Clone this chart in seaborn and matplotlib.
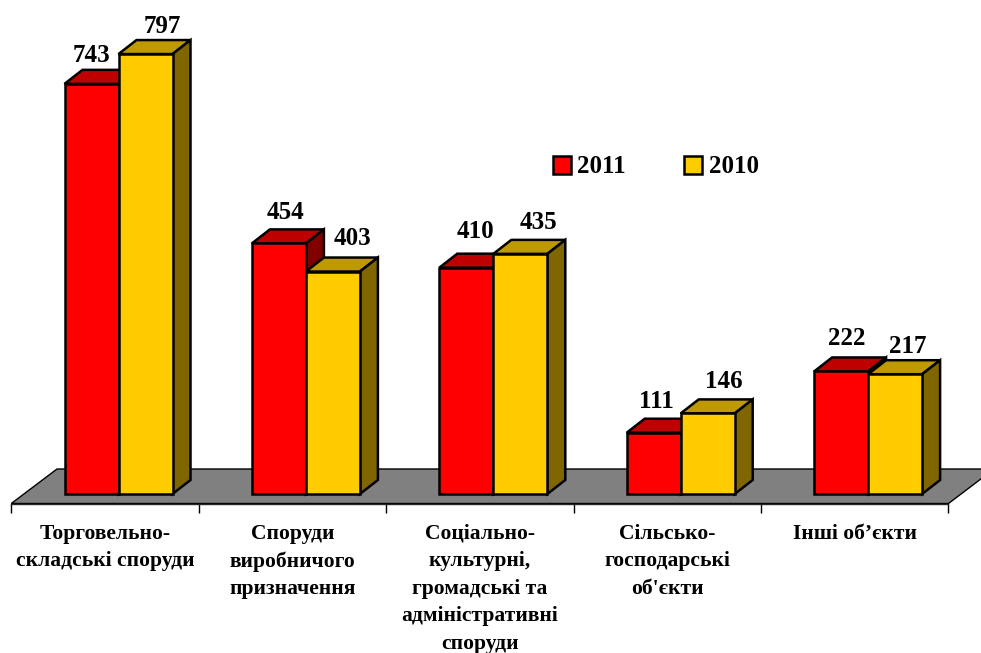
import matplotlib
matplotlib.use("Agg")
import matplotlib.pyplot as plt
import pandas as pd
import seaborn as sns
from matplotlib.patches import Polygon

categories = [
    "Торговельно-\nскладські споруди",
    "Споруди\nвиробничого\nпризначення",
    "Соціально-\nкультурні,\nгромадські та\nадміністративні\nспоруди",
    "Сільсько-\nгосподарські\nоб'єкти",
    "Інші об’єкти",
]
values_2011 = [743, 454, 410, 111, 222]
values_2010 = [797, 403, 435, 146, 217]

# manual shift of the value labels in pixels, relative to the back edge of the bar top
label_shift_2011 = [(0, 8), (7, 10), (9, 16), (3, 11), (6, 12)]
label_shift_2010 = [(17, 7), (20, 13), (18, 11), (16, 11), (13, 7)]

W, H = 981, 653
PX_PER_CAT = 187.4
PX_PER_UNIT = 0.552
X0, Y0 = 118.5, 494  # pixel position of first category centre and of value 0
DEPTH_X, DEPTH_Y = 18 / PX_PER_CAT, 14 / PX_PER_UNIT

sns.set_theme(style="white")
plt.rcParams["font.family"] = ["Liberation Serif", "DejaVu Serif"]
plt.rcParams["font.weight"] = "bold"

df = pd.DataFrame({
    "category": categories * 2,
    "value": values_2011 + values_2010,
    "year": ["2011"] * 5 + ["2010"] * 5,
})

fig = plt.figure(figsize=(W / 100, H / 100), dpi=100)
ax = fig.add_axes([0, 0, 1, 1])
ax.patch.set_alpha(0)

sns.barplot(data=df, x="category", y="value", hue="year", hue_order=["2011", "2010"],
            palette=["#FF0000", "#FFCC00"], saturation=1, width=108 / PX_PER_CAT, gap=0,
            edgecolor="black", linewidth=1.8, ax=ax)

ax.set_xlim(-X0 / PX_PER_CAT, (W - X0) / PX_PER_CAT)
ax.set_ylim(-(H - Y0) / PX_PER_UNIT, Y0 / PX_PER_UNIT)
ax.set_xlabel("")
ax.set_ylabel("")


def px(x, y):
    return (x - X0) / PX_PER_CAT, (Y0 - y) / PX_PER_UNIT


# grey floor, its front edge is the category axis
floor = [px(11.3, 503.5), px(948.5, 503.5), px(994, 469), px(57, 469)]
ax.add_patch(Polygon(floor, closed=True, facecolor="#808080", edgecolor="black", linewidth=1, zorder=1))

shades = [("#BF0000", "#800000"), ("#BF9900", "#806600")]
shifts = [label_shift_2011, label_shift_2010]
for n, container in enumerate(ax.containers):
    top_col, side_col = shades[n]
    for bar, (sx, sy) in zip(container, shifts[n]):
        bar.set_zorder(3 + 2 * n)
        x1, x2 = bar.get_x(), bar.get_x() + bar.get_width()
        h = bar.get_height()
        top = [(x1, h), (x2, h), (x2 + DEPTH_X, h + DEPTH_Y), (x1 + DEPTH_X, h + DEPTH_Y)]
        side = [(x2, 0), (x2 + DEPTH_X, DEPTH_Y), (x2 + DEPTH_X, h + DEPTH_Y), (x2, h)]
        ax.add_patch(Polygon(top, closed=True, facecolor=top_col, edgecolor="black", linewidth=1.8,
                             joinstyle="miter", zorder=2 + 2 * n))
        ax.add_patch(Polygon(side, closed=True, facecolor=side_col, edgecolor="black", linewidth=1.8,
                             joinstyle="miter", zorder=2 + 2 * n))
        ax.annotate(f"{h:.0f}", xy=((x1 + x2) / 2, h + DEPTH_Y), xytext=(sx * 0.72, sy * 0.72),
                    textcoords="offset points", ha="center", va="baseline", fontsize=18,
                    fontweight="bold", color="black", zorder=8)

# axis: spine along the floor edge, ticks between categories, labels centred in each band
for name in ["top", "left", "right"]:
    ax.spines[name].set_visible(False)
ax.spines["bottom"].set_position(("data", (Y0 - 503.5) / PX_PER_UNIT))
ax.spines["bottom"].set_bounds((11.3 - X0) / PX_PER_CAT, (948.5 - X0) / PX_PER_CAT)
ax.spines["bottom"].set_linewidth(1)
ax.spines["bottom"].set_zorder(2)
ax.set_yticks([])
edges = [(11.3 - X0) / PX_PER_CAT + k for k in range(6)]
centres = [e + 0.5 for e in edges[:-1]]
ax.set_xticks(edges)
ax.set_xticklabels([])
ax.set_xticks(centres, minor=True)
ax.set_xticklabels(categories, minor=True, fontsize=15.5, fontweight="bold", linespacing=1.5)
ax.tick_params(axis="x", which="major", bottom=True, length=6.5, width=1, color="black")
ax.tick_params(axis="x", which="minor", bottom=False, length=0, pad=14.5, colors="black")

sns.move_legend(ax, loc="center left", bbox_to_anchor=(540 / W, (H - 167) / H), ncol=2, title=None,
                frameon=False, fontsize=18, handlelength=0.72, handleheight=0.72, handletextpad=0.25,
                columnspacing=2.36, borderpad=0, labelcolor="black")
for handle in ax.get_legend().get_patches():
    handle.set_linewidth(1.8)

fig.savefig("out.png", dpi=100)
